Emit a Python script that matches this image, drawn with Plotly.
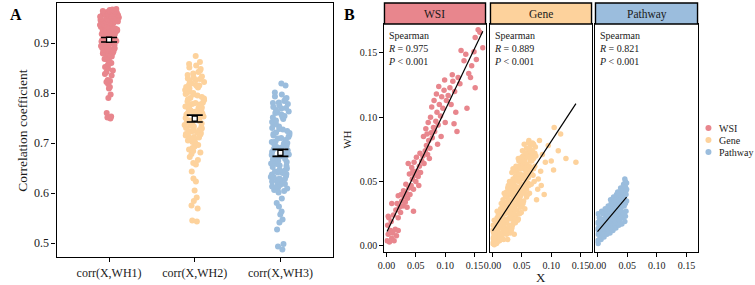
import numpy as np
import plotly.graph_objects as go

# ---------------- Panel A data ----------------
categories = ["corr(X,WH1)", "corr(X,WH2)", "corr(X,WH3)"]

wh1 = [0.968, 0.965, 0.962, 0.967, 0.958, 0.961, 0.955, 0.963, 0.951, 0.959,
       0.947, 0.956, 0.964, 0.944, 0.953, 0.949, 0.960, 0.941, 0.957, 0.938,
       0.952, 0.946, 0.935, 0.950, 0.943, 0.932, 0.954, 0.939, 0.928, 0.948,
       0.936, 0.925, 0.945, 0.930, 0.922, 0.940, 0.927, 0.918, 0.933, 0.921,
       0.915, 0.937, 0.924, 0.912, 0.929, 0.917, 0.909, 0.934, 0.920, 0.906,
       0.926, 0.913, 0.903, 0.931, 0.910, 0.900, 0.923, 0.907, 0.897, 0.919,
       0.904, 0.894, 0.916, 0.901, 0.891, 0.911, 0.898, 0.888, 0.905, 0.895,
       0.885, 0.902, 0.892, 0.882, 0.899, 0.889, 0.879, 0.896, 0.886, 0.876,
       0.893, 0.883, 0.873, 0.890, 0.880, 0.870, 0.887, 0.866, 0.878, 0.862,
       0.884, 0.858, 0.871, 0.855, 0.852, 0.868, 0.849, 0.845, 0.860, 0.842,
       0.838, 0.835, 0.826, 0.822, 0.824, 0.818, 0.812, 0.809, 0.797, 0.790,
       0.760, 0.753, 0.749, 0.751,
       0.966, 0.963, 0.957, 0.952, 0.948, 0.944, 0.940, 0.936, 0.958, 0.962,
       0.965, 0.960, 0.954, 0.949, 0.943, 0.939]

wh2 = [0.874, 0.862, 0.858, 0.855, 0.851, 0.848, 0.845, 0.842, 0.839, 0.836,
       0.833, 0.829, 0.826, 0.822, 0.819, 0.816, 0.812, 0.809, 0.806, 0.803,
       0.831, 0.824, 0.817, 0.811, 0.804, 0.798, 0.795, 0.792, 0.789, 0.786,
       0.800, 0.783, 0.780, 0.777, 0.774, 0.771, 0.768, 0.765, 0.762, 0.759,
       0.790, 0.778, 0.770, 0.763, 0.756, 0.753, 0.750, 0.747, 0.744, 0.741,
       0.757, 0.738, 0.735, 0.732, 0.729, 0.726, 0.723, 0.720, 0.717, 0.714,
       0.766, 0.749, 0.742, 0.736, 0.730, 0.724, 0.718, 0.711, 0.708, 0.705,
       0.745, 0.733, 0.721, 0.712, 0.702, 0.699, 0.696, 0.693, 0.690, 0.687,
       0.815, 0.797, 0.781, 0.760, 0.739, 0.727, 0.715, 0.706, 0.684, 0.681,
       0.678, 0.828, 0.814, 0.801, 0.787, 0.773,
       0.672, 0.666, 0.660, 0.657, 0.643, 0.629, 0.623, 0.605, 0.591, 0.584,
       0.575, 0.569, 0.545, 0.543]

wh3 = [0.819, 0.815, 0.801, 0.797, 0.793, 0.790, 0.787,
       0.784, 0.781, 0.778, 0.775, 0.772, 0.769, 0.766, 0.763, 0.760, 0.757,
       0.780, 0.770, 0.761, 0.754, 0.751, 0.748, 0.745, 0.742, 0.739, 0.736,
       0.752, 0.733, 0.730, 0.727, 0.724, 0.721, 0.718, 0.715, 0.712, 0.709,
       0.740, 0.728, 0.716, 0.706, 0.703, 0.700, 0.697, 0.694, 0.691, 0.688,
       0.720, 0.710, 0.699, 0.685, 0.682, 0.679, 0.676, 0.673, 0.670, 0.667,
       0.702, 0.689, 0.677, 0.664, 0.661, 0.658, 0.655, 0.652, 0.649, 0.646,
       0.692, 0.674, 0.662, 0.643, 0.640, 0.637, 0.634, 0.631, 0.628, 0.625,
       0.668, 0.654, 0.641, 0.622, 0.619, 0.616, 0.613, 0.610, 0.607, 0.604,
       0.659, 0.638, 0.626, 0.614, 0.601, 0.632, 0.618, 0.645, 0.609, 0.623,
       0.606, 0.629,
       0.589, 0.580, 0.573, 0.563, 0.557, 0.547, 0.541, 0.527, 0.498, 0.493,
       0.487]

groups_a = [wh1, wh2, wh3]

# ---------------- Panel B data ----------------
facets = ["WSI", "Gene", "Pathway"]
r_labels = ["0.975", "0.889", "0.821"]
p_labels = ["0.001", "0.001", "0.001"]

wsi_pts = [
    (0.001, 0.004), (0.003, 0.009), (0.005, 0.003), (0.007, 0.012), (0.002, 0.016),
    (0.009, 0.006), (0.011, 0.010), (0.013, 0.004), (0.015, 0.013), (0.004, 0.022),
    (0.017, 0.008), (0.020, 0.012), (0.008, 0.019), (0.012, 0.024), (0.009, 0.033),
    (0.020, 0.039), (0.003, 0.023),
    (0.016, 0.028), (0.020, 0.022), (0.022, 0.030), (0.024, 0.026), (0.026, 0.035),
    (0.028, 0.031), (0.030, 0.038), (0.018, 0.033), (0.032, 0.034), (0.034, 0.041),
    (0.025, 0.040), (0.036, 0.037), (0.038, 0.045), (0.029, 0.043), (0.040, 0.040),
    (0.033, 0.048), (0.046, 0.027), (0.035, 0.030),
    (0.042, 0.047), (0.044, 0.052), (0.046, 0.044), (0.048, 0.055), (0.039, 0.056),
    (0.050, 0.050), (0.052, 0.058), (0.043, 0.061), (0.054, 0.054), (0.056, 0.062),
    (0.047, 0.065), (0.058, 0.057), (0.060, 0.066), (0.051, 0.069), (0.055, 0.047),
    (0.045, 0.058), (0.037, 0.064),
    (0.062, 0.070), (0.064, 0.064), (0.066, 0.074), (0.068, 0.078), (0.057, 0.072),
    (0.070, 0.071), (0.072, 0.082), (0.063, 0.085), (0.074, 0.076), (0.076, 0.088),
    (0.067, 0.091), (0.078, 0.084), (0.080, 0.092), (0.071, 0.096), (0.073, 0.068),
    (0.069, 0.087), (0.075, 0.100),
    (0.082, 0.089), (0.084, 0.097), (0.086, 0.104), (0.077, 0.108), (0.088, 0.094),
    (0.090, 0.110), (0.081, 0.113), (0.092, 0.101), (0.094, 0.116), (0.085, 0.118),
    (0.096, 0.107), (0.098, 0.121), (0.089, 0.124), (0.093, 0.085), (0.087, 0.079),
    (0.100, 0.096),
    (0.102, 0.113), (0.105, 0.117), (0.108, 0.123), (0.099, 0.129), (0.110, 0.110),
    (0.113, 0.128), (0.115, 0.095), (0.118, 0.104), (0.120, 0.089), (0.112, 0.133),
    (0.116, 0.120), (0.122, 0.131), (0.125, 0.126), (0.127, 0.152), (0.132, 0.144),
    (0.135, 0.149),
    (0.137, 0.107), (0.140, 0.134), (0.143, 0.131), (0.149, 0.151), (0.151, 0.123),
    (0.145, 0.140), (0.153, 0.145), (0.156, 0.168), (0.159, 0.166), (0.151, 0.162),
    (0.164, 0.154),
]

gene_pts = [
    (0.000, 0.002), (0.001, 0.006), (0.002, 0.010), (0.003, 0.001), (0.004, 0.014),
    (0.005, 0.005), (0.006, 0.018), (0.007, 0.009), (0.008, 0.003), (0.009, 0.013),
    (0.001, 0.016), (0.003, 0.020), (0.010, 0.007), (0.002, 0.004), (0.006, 0.011),
    (0.008, 0.022), (0.004, 0.008), (0.000, 0.012),
    (0.011, 0.015), (0.012, 0.004), (0.013, 0.019), (0.014, 0.010), (0.015, 0.024),
    (0.016, 0.006), (0.017, 0.016), (0.018, 0.027), (0.019, 0.012), (0.020, 0.021),
    (0.011, 0.026), (0.013, 0.008), (0.015, 0.014), (0.017, 0.030), (0.019, 0.005),
    (0.012, 0.022), (0.016, 0.019), (0.018, 0.009), (0.014, 0.029), (0.020, 0.015),
    (0.021, 0.025), (0.022, 0.010), (0.023, 0.032), (0.024, 0.018), (0.025, 0.028),
    (0.026, 0.013), (0.027, 0.036), (0.028, 0.022), (0.029, 0.031), (0.030, 0.016),
    (0.021, 0.034), (0.023, 0.020), (0.025, 0.038), (0.027, 0.026), (0.029, 0.040),
    (0.022, 0.029), (0.024, 0.009), (0.026, 0.033), (0.028, 0.015), (0.030, 0.028),
    (0.024, 0.042), (0.026, 0.045),
    (0.031, 0.035), (0.032, 0.021), (0.033, 0.043), (0.034, 0.027), (0.035, 0.038),
    (0.036, 0.018), (0.037, 0.047), (0.038, 0.031), (0.039, 0.041), (0.040, 0.024),
    (0.031, 0.049), (0.033, 0.030), (0.035, 0.052), (0.037, 0.036), (0.039, 0.054),
    (0.032, 0.040), (0.034, 0.016), (0.036, 0.044), (0.038, 0.022), (0.040, 0.037),
    (0.037, 0.009), (0.033, 0.057),
    (0.041, 0.046), (0.042, 0.028), (0.043, 0.051), (0.044, 0.034), (0.045, 0.043),
    (0.046, 0.025), (0.047, 0.056), (0.048, 0.039), (0.049, 0.048), (0.050, 0.031),
    (0.041, 0.058), (0.043, 0.040), (0.045, 0.062), (0.047, 0.045), (0.049, 0.064),
    (0.042, 0.053), (0.044, 0.021), (0.046, 0.050), (0.048, 0.030), (0.050, 0.055),
    (0.044, 0.068), (0.047, 0.068),
    (0.051, 0.042), (0.052, 0.060), (0.053, 0.035), (0.054, 0.052), (0.055, 0.067),
    (0.056, 0.045), (0.057, 0.058), (0.058, 0.038), (0.059, 0.070), (0.060, 0.049),
    (0.051, 0.074), (0.053, 0.063), (0.055, 0.029), (0.057, 0.072), (0.059, 0.056),
    (0.054, 0.079), (0.056, 0.064), (0.058, 0.044), (0.060, 0.061), (0.052, 0.070),
    (0.058, 0.076),
    (0.061, 0.053), (0.062, 0.073), (0.063, 0.041), (0.064, 0.066), (0.065, 0.078),
    (0.066, 0.048), (0.067, 0.060), (0.068, 0.074), (0.069, 0.055), (0.070, 0.068),
    (0.062, 0.082), (0.064, 0.058), (0.066, 0.071), (0.068, 0.080), (0.072, 0.062),
    (0.074, 0.070), (0.071, 0.050), (0.073, 0.077), (0.063, 0.075), (0.070, 0.079),
    (0.065, 0.069), (0.061, 0.080),
    (0.075, 0.036), (0.077, 0.044), (0.080, 0.082), (0.082, 0.058), (0.085, 0.071),
    (0.088, 0.040), (0.090, 0.065), (0.100, 0.066), (0.104, 0.059), (0.105, 0.092),
    (0.112, 0.074), (0.116, 0.087), (0.125, 0.068), (0.142, 0.065), (0.078, 0.052),
    (0.083, 0.047), (0.095, 0.078),
    (0.002, 0.007), (0.005, 0.016), (0.007, 0.002), (0.009, 0.019), (0.010, 0.014),
    (0.012, 0.017), (0.014, 0.005), (0.016, 0.023), (0.018, 0.020), (0.019, 0.030),
    (0.021, 0.018), (0.022, 0.039), (0.023, 0.012), (0.025, 0.020), (0.027, 0.030),
    (0.028, 0.041), (0.030, 0.033), (0.031, 0.024), (0.032, 0.044), (0.033, 0.014),
    (0.034, 0.035), (0.035, 0.046), (0.036, 0.025), (0.038, 0.050), (0.039, 0.028),
    (0.040, 0.044), (0.041, 0.032), (0.042, 0.060), (0.043, 0.020), (0.045, 0.050),
    (0.046, 0.037), (0.048, 0.060), (0.049, 0.026), (0.050, 0.045), (0.051, 0.066),
    (0.052, 0.033), (0.053, 0.055), (0.054, 0.041), (0.055, 0.061), (0.056, 0.072),
    (0.057, 0.050), (0.059, 0.063), (0.060, 0.040), (0.061, 0.069), (0.062, 0.047),
    (0.063, 0.062), (0.064, 0.074), (0.066, 0.056), (0.067, 0.066), (0.069, 0.072),
    (0.070, 0.060), (0.072, 0.072), (0.038, 0.058), (0.029, 0.050), (0.020, 0.041),
    (0.015, 0.033), (0.010, 0.024), (0.045, 0.066), (0.050, 0.069), (0.040, 0.062),
    (0.035, 0.060), (0.027, 0.047), (0.018, 0.036), (0.031, 0.041), (0.034, 0.049),
    (0.025, 0.033), (0.017, 0.024), (0.013, 0.027), (0.008, 0.027), (0.044, 0.056),
    (0.048, 0.052), (0.053, 0.047), (0.058, 0.054), (0.042, 0.039), (0.036, 0.032),
    (0.030, 0.010), (0.026, 0.005), (0.032, 0.012), (0.039, 0.018), (0.047, 0.034),
]

pathway_pts = [
    (0.000, 0.004), (0.001, 0.009), (0.002, 0.014), (0.000, 0.018), (0.003, 0.022),
    (0.001, 0.025), (0.004, 0.006), (0.002, 0.011), (0.003, 0.016), (0.004, 0.020),
    (0.000, 0.013), (0.001, 0.002),
    (0.006, 0.005), (0.007, 0.010), (0.005, 0.013), (0.008, 0.017), (0.006, 0.021),
    (0.009, 0.025), (0.007, 0.027), (0.008, 0.008), (0.009, 0.012), (0.005, 0.019),
    (0.006, 0.015),
    (0.011, 0.007), (0.012, 0.011), (0.013, 0.015), (0.010, 0.019), (0.014, 0.023),
    (0.011, 0.027), (0.013, 0.029), (0.012, 0.013), (0.014, 0.017), (0.010, 0.009),
    (0.013, 0.021),
    (0.016, 0.009), (0.017, 0.013), (0.018, 0.016), (0.015, 0.020), (0.019, 0.024),
    (0.016, 0.028), (0.018, 0.031), (0.019, 0.011), (0.017, 0.018), (0.015, 0.014),
    (0.018, 0.022), (0.016, 0.025),
    (0.021, 0.010), (0.022, 0.014), (0.023, 0.018), (0.020, 0.022), (0.024, 0.026),
    (0.021, 0.030), (0.023, 0.033), (0.022, 0.036), (0.024, 0.016), (0.020, 0.019),
    (0.023, 0.023), (0.021, 0.027),
    (0.026, 0.012), (0.027, 0.015), (0.028, 0.019), (0.025, 0.023), (0.029, 0.027),
    (0.026, 0.031), (0.028, 0.035), (0.027, 0.038), (0.029, 0.017), (0.025, 0.021),
    (0.028, 0.025), (0.026, 0.029), (0.027, 0.033),
    (0.031, 0.014), (0.032, 0.018), (0.033, 0.022), (0.030, 0.026), (0.034, 0.029),
    (0.031, 0.033), (0.033, 0.037), (0.032, 0.040), (0.034, 0.042), (0.030, 0.020),
    (0.032, 0.024), (0.034, 0.031), (0.031, 0.036),
    (0.036, 0.016), (0.037, 0.020), (0.038, 0.024), (0.035, 0.028), (0.039, 0.032),
    (0.036, 0.035), (0.038, 0.039), (0.037, 0.042), (0.039, 0.045), (0.035, 0.025),
    (0.037, 0.030), (0.039, 0.036), (0.036, 0.040),
    (0.041, 0.017), (0.042, 0.022), (0.043, 0.026), (0.040, 0.030), (0.044, 0.034),
    (0.041, 0.038), (0.043, 0.041), (0.042, 0.045), (0.044, 0.048), (0.040, 0.027),
    (0.042, 0.032), (0.044, 0.039), (0.041, 0.043), (0.043, 0.036),
    (0.046, 0.019), (0.047, 0.023), (0.048, 0.027), (0.045, 0.031), (0.049, 0.035),
    (0.046, 0.039), (0.048, 0.043), (0.047, 0.046), (0.049, 0.049), (0.046, 0.052),
    (0.045, 0.025), (0.047, 0.033), (0.048, 0.040), (0.049, 0.044), (0.047, 0.050),
    (0.045, 0.037),
]

points_b = [wsi_pts, gene_pts, pathway_pts]

colors = ["#E8868D", "#FDD29C", "#9BBDDD"]
FONT = "'Liberation Serif', 'DejaVu Serif', serif"
TXT = "#1a1a1a"
W, H = 755, 285


def px(xp):
    return xp / W


def py(yp):
    return 1 - yp / H


def ann(text, x, y, size, xanchor="center", yanchor="middle", **kw):
    d = dict(text=text, xref="paper", yref="paper", x=px(x), y=py(y),
             xanchor=xanchor, yanchor=yanchor, showarrow=False,
             font=dict(size=size, family=FONT, color=kw.pop("color", TXT)))
    d.update(kw)
    return d


fig = go.Figure()

# ---------------- Panel A ----------------
for cat, vals, col in zip(categories, groups_a, colors):
    fig.add_trace(go.Box(
        x=[cat] * len(vals), y=vals, boxpoints="all", jitter=0.48, pointpos=0,
        width=0.5, fillcolor="rgba(0,0,0,0)", line=dict(width=0, color="rgba(0,0,0,0)"),
        marker=dict(color=col, size=6, opacity=1), showlegend=False,
        xaxis="x", yaxis="y", hoverinfo="y"))

means = [float(np.mean(v)) for v in groups_a]
ses = [float(np.std(v, ddof=1) / np.sqrt(len(v))) for v in groups_a]
fig.add_trace(go.Scatter(
    x=categories, y=means, mode="markers", xaxis="x", yaxis="y", showlegend=False,
    marker=dict(symbol="square", size=5, color="white", line=dict(color="black", width=1.3)),
    error_y=dict(type="data", array=ses, width=8, thickness=1.6, color="black")))

# ---------------- Panel B ----------------
xdoms = [(381, 483), (488, 590), (594, 697)]
ytop, ybot, strip_top = 24, 252, 3
for i, (name, pts, col) in enumerate(zip(facets, points_b, colors)):
    xs = np.array([p[0] for p in pts])
    ys = np.array([p[1] for p in pts])
    ax = str(i + 2)
    fig.add_trace(go.Scatter(
        x=xs, y=ys, mode="markers", xaxis="x" + ax, yaxis="y" + ax, showlegend=False,
        marker=dict(color=col, size=5.5, opacity=1), name=name))
    k, b = np.polyfit(xs, ys, 1)
    lx = np.array([xs.min(), xs.max()])
    fig.add_trace(go.Scatter(
        x=lx, y=k * lx + b, mode="lines", xaxis="x" + ax, yaxis="y" + ax,
        showlegend=False, line=dict(color="black", width=1.2)))

axis_common = dict(showline=True, linecolor="black", linewidth=1.4, mirror=True,
                   ticks="outside", ticklen=4, tickwidth=1.2, tickcolor="black",
                   showgrid=False, zeroline=False)

layout = dict(
    width=W, height=H, margin=dict(l=0, r=0, t=0, b=0),
    paper_bgcolor="white", plot_bgcolor="white",
    font=dict(family=FONT, color=TXT),
    showlegend=False,
    xaxis=dict(domain=[px(50), px(329)], anchor="y", type="category",
               categoryorder="array", categoryarray=categories,
               range=[-0.613, 2.613], tickfont=dict(size=12, family=FONT), **axis_common),
    yaxis=dict(domain=[py(257), py(3)], anchor="x", range=[0.472, 0.98],
               dtick=0.1, tickformat=".1f", tickfont=dict(size=12, family=FONT), **axis_common),
)
for i, (x0, x1) in enumerate(xdoms):
    ax = str(i + 2)
    layout["xaxis" + ax] = dict(domain=[px(x0), px(x1)], anchor="y" + ax,
                                range=[-0.0034, 0.1686], tickvals=[0, 0.05, 0.10, 0.15],
                                tickformat=".2f", tickfont=dict(size=10, family=FONT),
                                **axis_common)
    ydict = dict(domain=[py(ybot), py(ytop)], anchor="x" + ax, range=[-0.0047, 0.1725],
                 tickvals=[0, 0.05, 0.10, 0.15], tickformat=".2f",
                 tickfont=dict(size=10, family=FONT), **axis_common)
    if i > 0:
        ydict["showticklabels"] = False
        ydict["ticks"] = ""
        ydict["matches"] = "y2"
    layout["yaxis" + ax] = ydict
fig.update_layout(**layout)

shapes = []
annotations = []
# strips
for (x0, x1), name, col in zip(xdoms, facets, colors):
    shapes.append(dict(type="rect", xref="paper", yref="paper",
                       x0=px(x0), x1=px(x1), y0=py(ytop), y1=py(strip_top),
                       fillcolor=col, line=dict(color="black", width=1.4), layer="above"))
    annotations.append(ann(name, (x0 + x1) / 2, (strip_top + ytop) / 2 + 0.5, 11.5))
# correlation labels
for (x0, x1), r, p in zip(xdoms, r_labels, p_labels):
    annotations.append(ann("Spearman<br><i>R</i> = " + r + "<br><i>P</i> &lt; " + p,
                           x0 + 2, ytop + 4, 10, xanchor="left", yanchor="top", align="left"))

# axis titles and panel tags
annotations += [
    ann("Correlation coefficient", 15, 130, 13.5, textangle=-90),
    ann("WH", 343, 140, 11, textangle=-90),
    ann("X", 539, 277, 13),
    ann("<b>A</b>", 9, 14, 16, color="black"),
    ann("<b>B</b>", 346, 14, 16, color="black"),
]

# legend
for j, (name, col) in enumerate(zip(facets, colors)):
    yc = 128 + j * 12
    shapes.append(dict(type="circle", xref="paper", yref="paper",
                       xsizemode="pixel", ysizemode="pixel",
                       xanchor=px(708), yanchor=py(yc), x0=-3, x1=3, y0=-3, y1=3,
                       fillcolor=col, line=dict(width=0)))
    annotations.append(ann(name, 717, yc, 10, xanchor="left"))

fig.update_layout(shapes=shapes, annotations=annotations)
fig.write_html("out.html")
